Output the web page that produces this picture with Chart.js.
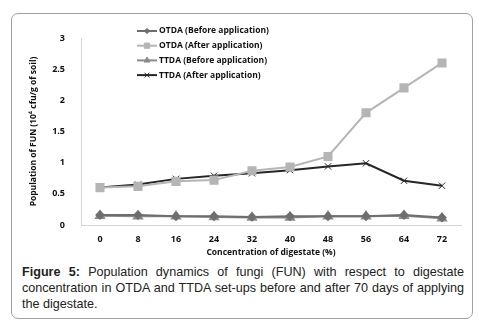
<!DOCTYPE html>
<html>
<head>
<meta charset="utf-8">
<script src="https://cdn.jsdelivr.net/npm/chart.js@4"></script>
<style>
  body { margin: 0; background: #fff; }
  #box {
    position: absolute; left: 11px; top: 13px; width: 460px; height: 304px;
    border: 1px solid #a0a0a0; border-radius: 7px;
  }
  #wrap { position: absolute; left: 11px; top: 13px; width: 462px; height: 245px; }
  #caption {
    position: absolute; left: 22px; top: 264px; width: 442px;
    font-family: "Liberation Sans", Arial, sans-serif; font-size: 12.6px; line-height: 16px;
    text-align: justify; color: #222;
  }
</style>
</head>
<body>
<div id="box"></div>
<div id="wrap"><canvas id="funChart"></canvas></div>
<div id="caption"><b>Figure 5:</b> Population dynamics of fungi (FUN) with respect to digestate concentration in OTDA and TTDA set-ups before and after 70 days of applying the digestate.</div>
<script>
// digestate concentration (%)
var concentrations = ['0', '8', '16', '24', '32', '40', '48', '56', '64', '72'];

// population of fungi (10^4 cfu/g of soil)
var otdaBefore = [0.16, 0.16, 0.14, 0.14, 0.13, 0.14, 0.14, 0.14, 0.16, 0.12];
var otdaAfter  = [0.60, 0.62, 0.70, 0.72, 0.87, 0.93, 1.10, 1.80, 2.20, 2.60];
var ttdaBefore = [0.15, 0.14, 0.14, 0.13, 0.12, 0.12, 0.14, 0.14, 0.15, 0.11];
var ttdaAfter  = [0.60, 0.65, 0.74, 0.79, 0.83, 0.88, 0.94, 0.99, 0.71, 0.63];

var yTicks = [0, 0.5, 1, 1.5, 2, 2.5, 3];

var labelFont = { family: '"Open Sans", sans-serif', size: 9, weight: 'bold' };
var titleFont = { family: '"Open Sans", sans-serif', size: 8.5, weight: 'bold' };

// legend drawn inside the plot, Excel style (line - marker - line)
var sampleLegend = {
    id: 'sampleLegend',
    afterDraw: function (chart) {
        var ctx = chart.ctx;
        var area = chart.chartArea;
        var x0 = area.left + 56;
        var y0 = area.top - 7;
        chart.data.datasets.forEach(function (ds, i) {
            var y = y0 + i * 14.7;
            ctx.save();
            ctx.strokeStyle = ds.borderColor;
            ctx.fillStyle = ds.backgroundColor;
            ctx.lineWidth = 2;
            ctx.beginPath();
            ctx.moveTo(x0, y);
            ctx.lineTo(x0 + 20, y);
            ctx.stroke();
            ctx.lineWidth = ds.pointBorderWidth || 1;
            Chart.helpers.drawPoint(ctx, {
                pointStyle: ds.pointStyle,
                radius: ds.pointRadius * 0.75,
                borderWidth: ds.pointBorderWidth || 1
            }, x0 + 10, y);
            ctx.fillStyle = '#111';
            ctx.font = 'bold 8.5px "Open Sans", sans-serif';
            ctx.textBaseline = 'middle';
            ctx.fillText(ds.label, x0 + 22, y);
            ctx.restore();
        });
    }
};

var ctx = document.getElementById('funChart').getContext('2d');
var funChart = new Chart(ctx, {
    type: 'line',
    data: {
        labels: concentrations,
        datasets: [{
            label: 'OTDA (Before application)',
            data: otdaBefore,
            borderColor: '#6e6e6e',
            backgroundColor: '#6e6e6e',
            pointStyle: 'rectRot',
            pointRadius: 3.5,
            borderWidth: 2
        }, {
            label: 'OTDA (After application)',
            data: otdaAfter,
            borderColor: '#b5b5b5',
            backgroundColor: '#b5b5b5',
            pointStyle: 'rect',
            pointRadius: 5,
            borderWidth: 2
        }, {
            label: 'TTDA (Before application)',
            data: ttdaBefore,
            borderColor: '#8c8c8c',
            backgroundColor: '#8c8c8c',
            pointStyle: 'triangle',
            pointRadius: 4.5,
            borderWidth: 2
        }, {
            label: 'TTDA (After application)',
            data: ttdaAfter,
            borderColor: '#262626',
            backgroundColor: '#262626',
            pointStyle: 'crossRot',
            pointRadius: 4.5,
            pointBorderWidth: 1,
            borderWidth: 2
        }]
    },
    options: {
        responsive: true,
        maintainAspectRatio: false,
        animation: false,
        layout: { padding: { top: 25, right: 12, left: 0, bottom: 0 } },
        plugins: {
            legend: { display: false },
            tooltip: { enabled: false }
        },
        scales: {
            x: {
                offset: true,
                grid: { display: false },
                border: { display: true, color: '#d4d4d4', width: 1 },
                ticks: { color: '#111', font: labelFont, padding: 1, maxRotation: 0 },
                title: {
                    display: true,
                    text: 'Concentration of digestate (%)',
                    color: '#111',
                    font: titleFont,
                    padding: { top: 0, bottom: 0 }
                },
                afterFit: function (scale) { scale.height = 33; }
            },
            y: {
                min: 0,
                max: 3,
                afterBuildTicks: function (scale) {
                    scale.ticks = yTicks.map(function (v) { return { value: v }; });
                },
                grid: { display: false },
                border: { display: true, color: '#d4d4d4', width: 1 },
                ticks: {
                    color: '#111', font: labelFont, padding: 8,
                    callback: function (v) { return String(v); }
                },
                title: {
                    display: true,
                    text: 'Population of FUN (10\u2074 cfu/g of soil)',
                    color: '#111',
                    font: titleFont,
                    padding: { top: 17, bottom: 0 }
                },
                afterFit: function (scale) { scale.width = 70; }
            }
        }
    },
    plugins: [sampleLegend]
});
</script>
</body>
</html>
